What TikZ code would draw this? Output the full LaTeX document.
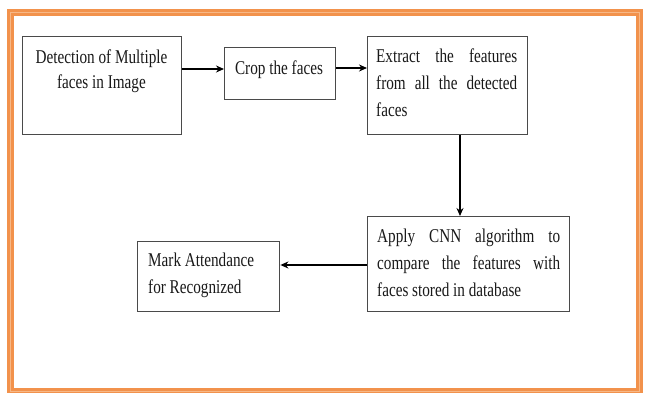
\documentclass[tikz,border=0pt]{standalone}
\usepackage{fontspec}
\setmainfont{Liberation Serif}[FakeStretch=0.78]
\usetikzlibrary{arrows.meta}
\definecolor{frameor}{HTML}{F2924C}
\definecolor{framelt}{HTML}{F7B887}
\definecolor{boxgray}{HTML}{4A4A4A}
\tikzset{
  stepbox/.style={draw=boxgray, line width=1.4pt, fill=white, inner sep=0pt},
  txt/.style={inner sep=0pt, anchor=base west, text=black!90, font=\fontsize{19.5}{26}\selectfont},
  conn/.style={draw=black, line width=1.4pt, -{Stealth[length=8pt,width=7pt]}},
}
\newcommand{\jline}[2]{\makebox[#1][s]{#2}}
\begin{document}
\begin{tikzpicture}[x=1pt,y=-1pt]
\useasboundingbox (0,0) rectangle (649,393);
\fill[white] (0,0) rectangle (649,393);
% frame
\draw[frameor, line width=6pt] (10,12.5) rectangle (640,392);
\draw[framelt, line width=1pt] (10.5,13) rectangle (639.5,391.5);
\draw[frameor, line width=2pt] (13,15.5) rectangle (637,389);
% boxes
\node[stepbox, anchor=north west, minimum width=159pt, minimum height=98pt] (b1) at (22,36) {};
\node[stepbox, anchor=north west, minimum width=111pt, minimum height=52pt] (b2) at (224,47) {};
\node[stepbox, anchor=north west, minimum width=160pt, minimum height=98pt] (b3) at (367,36) {};
\node[stepbox, anchor=north west, minimum width=202pt, minimum height=95pt] (b4) at (367,216) {};
\node[stepbox, anchor=north west, minimum width=142pt, minimum height=70pt] (b5) at (137,241) {};
% texts
\node[txt, anchor=base] (t1) at (101.5,64) {\parbox[t]{150pt}{\centering\fontsize{19.5}{25}\selectfont Detection of Multiple\\faces in Image}};
\node[txt, anchor=base] (t2) at (279,75) {Crop the faces};
\node[txt] (t3) at (376,63) {\parbox[t]{141pt}{\fontsize{19.5}{27}\selectfont\jline{141pt}{Extract the features}\\\jline{141pt}{from all the detected}\\faces}};
\node[txt] (t4) at (377,243) {\parbox[t]{183pt}{\fontsize{19.5}{27}\selectfont\jline{183pt}{Apply CNN algorithm to}\\\jline{183pt}{compare the features with}\\faces stored in database}};
\node[txt] (t5) at (148,267) {\parbox[t]{125pt}{\fontsize{19.5}{27}\selectfont Mark Attendance\\for Recognized}};
% connectors
\draw[conn] (b1.east |- 0,69) -- (b2.west |- 0,69);
\draw[conn] (b2.east |- 0,68) -- (b3.west |- 0,68);
\draw[conn] (b3.south -| 460,0) -- (b4.north -| 460,0);
\draw[conn] (b4.west |- 0,265) -- (b5.east |- 0,265);
\end{tikzpicture}
\end{document}
